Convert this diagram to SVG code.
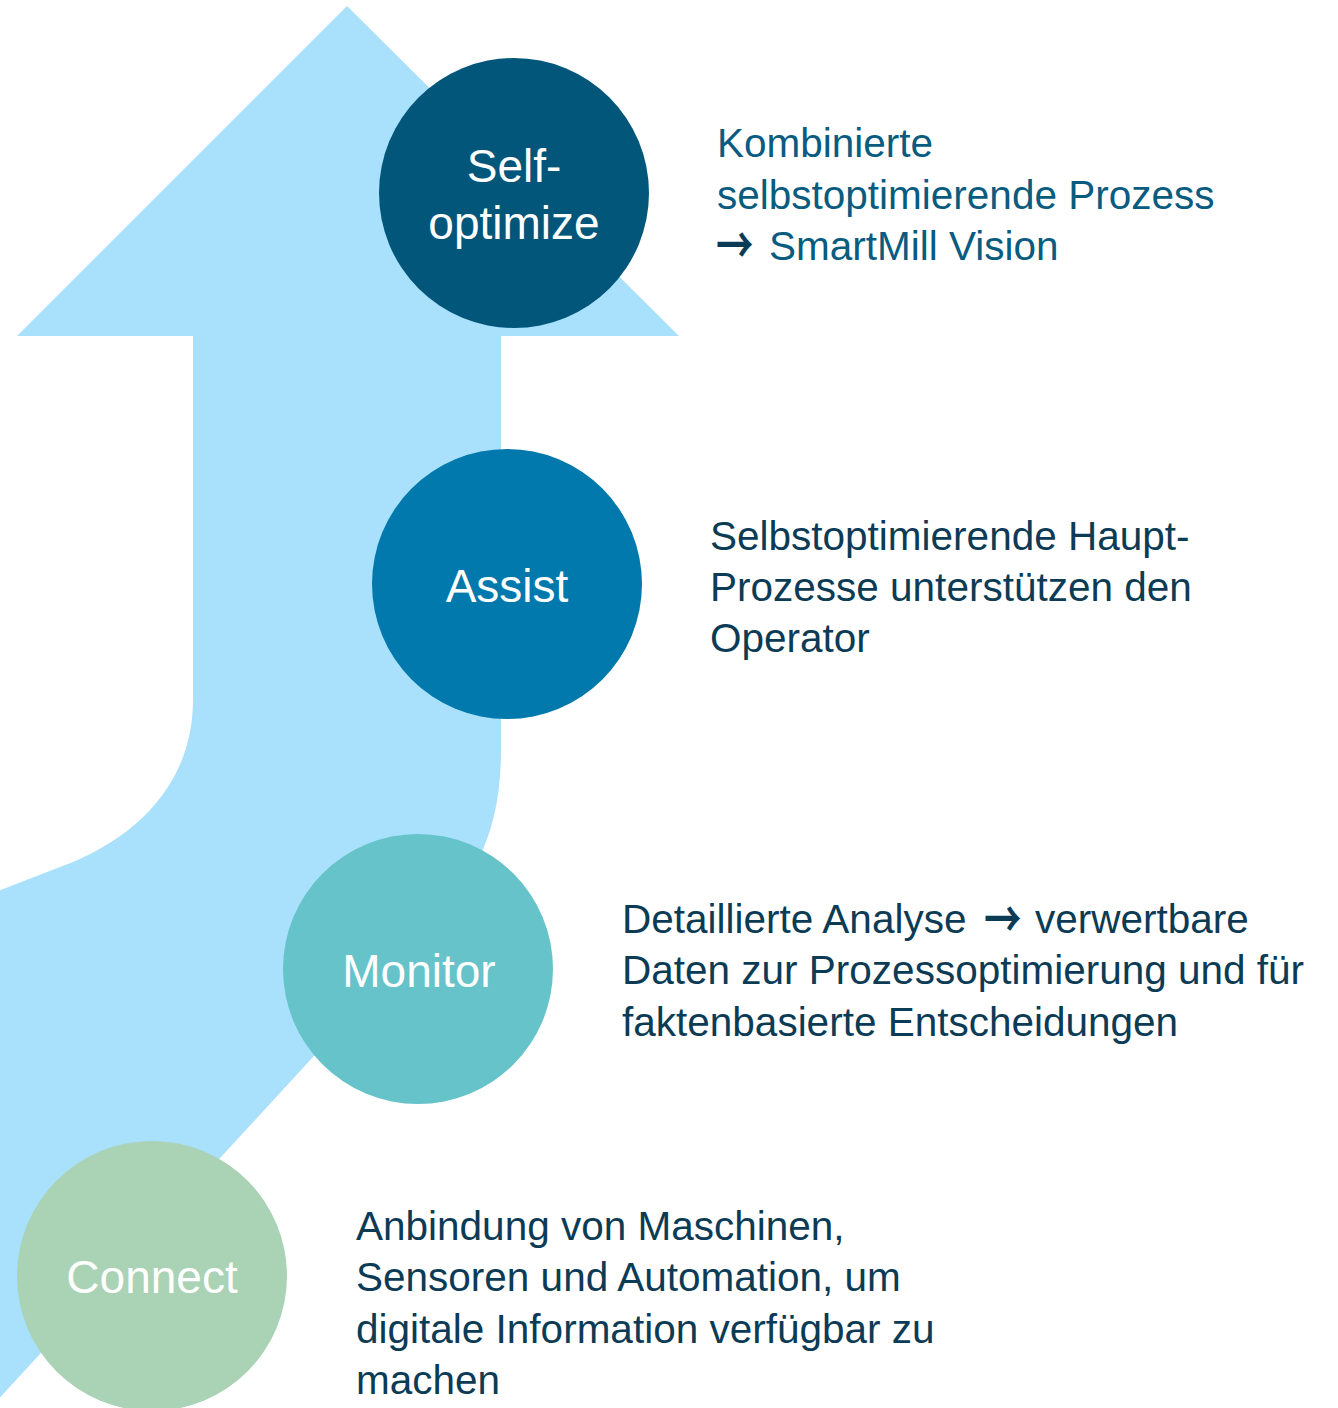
<svg xmlns="http://www.w3.org/2000/svg" width="1338" height="1408" viewBox="0 0 1338 1408">
  <defs>
    <style>
      .band { fill: #a9e1fd; }
      .label { font-family: "Liberation Sans", Arial, sans-serif; font-size: 46px; fill: #ffffff; text-anchor: middle; }
      .desc { font-family: "Liberation Sans", Arial, sans-serif; font-size: 40.5px; fill: #0c3b55; }
      .top { fill: #0a5b80; }
      .arr { font-family: "Noto Sans CJK JP", sans-serif; font-weight: bold; font-size: 44px; fill: #0c3b55; }
    </style>
  </defs>
  <rect width="1338" height="1408" fill="#ffffff"/>

  <!-- rising band with arrowhead behind the stages -->
  <g id="connectors">
    <path class="band" d="M347,6 L679,336 L501,336 L501,750 C501,840 470,885 416,945 L-30,1430 L-30,902 L60,867 C140,838 193,780 193,700 L193,336 L17,336 Z"/>
  </g>

  <g id="self-optimize">
    <circle cx="514" cy="193" r="135" fill="#02567a"/>
    <text class="label" x="514" y="182">Self-</text>
    <text class="label" x="514" y="239">optimize</text>
    <text class="desc top">
      <tspan x="717" y="157">Kombinierte</tspan>
      <tspan x="717" y="209">selbstoptimierende Prozess</tspan>
      <tspan x="769" y="260">SmartMill Vision</tspan>
    </text>
    <text class="arr top" transform="translate(716,264) scale(0.85,1.15)">→</text>
  </g>

  <g id="assist">
    <circle cx="507" cy="584" r="135" fill="#0279ac"/>
    <text class="label" x="507" y="602">Assist</text>
    <text class="desc">
      <tspan x="710" y="550">Selbstoptimierende Haupt-</tspan>
      <tspan x="710" y="601">Prozesse unterstützen den</tspan>
      <tspan x="710" y="652">Operator</tspan>
    </text>
  </g>

  <g id="monitor">
    <circle cx="418" cy="969" r="135" fill="#66c3c9"/>
    <text class="label" x="419" y="987">Monitor</text>
    <text class="desc">
      <tspan x="622" y="933">Detaillierte Analyse</tspan><tspan x="1035" y="933">verwertbare</tspan>
      <tspan x="622" y="984">Daten zur Prozessoptimierung und für</tspan>
      <tspan x="622" y="1036">faktenbasierte Entscheidungen</tspan>
    </text>
    <text class="arr" transform="translate(984,938) scale(0.85,1.15)">→</text>
  </g>

  <g id="connect">
    <circle cx="152" cy="1276" r="135" fill="#aad2b5"/>
    <text class="label" x="152" y="1293">Connect</text>
    <text class="desc">
      <tspan x="356" y="1240">Anbindung von Maschinen,</tspan>
      <tspan x="356" y="1291">Sensoren und Automation, um</tspan>
      <tspan x="356" y="1343">digitale Information verfügbar zu</tspan>
      <tspan x="356" y="1394">machen</tspan>
    </text>
  </g>
</svg>
